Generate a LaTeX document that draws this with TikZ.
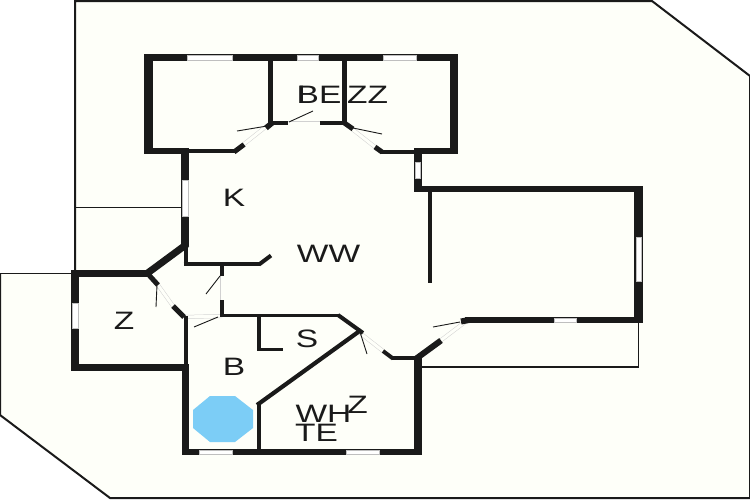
\documentclass[tikz,border=0pt]{standalone}
\usepackage{fontspec}
\setmainfont{Liberation Sans}
\newdimen\pxu \pxu=0.03cm
\definecolor{planbg}{HTML}{FEFFF9}
\definecolor{ink}{HTML}{1A1A1A}
\definecolor{poolblue}{HTML}{7CCDF6}
\newcommand{\lbl}[1]{\scalebox{1.33}[1]{\fontsize{21.5}{21.5}\selectfont #1}}
\tikzset{
  wall/.style={draw=ink,line width=#1*\pxu,line join=miter,line cap=butt},
  thin line/.style={draw=ink,line width=#1*\pxu},
  swing/.style={draw=ink,line width=0.9*\pxu},
  leaf/.style={draw=black!18,line width=0.5*\pxu,double=planbg,double distance=3*\pxu},
  pane/.style={fill=white,draw=black!25,line width=0.3*\pxu},
  label/.style={inner sep=0pt,text=ink}
}
\begin{document}
\begin{tikzpicture}[x=0.03cm,y=-0.03cm]
\useasboundingbox (0,0) rectangle (750,500);
% site
\fill[white] (0,0) rectangle (750,500);
\fill[planbg] (75,1) -- (652,1) -- (750,76) -- (750,498) -- (110,498) -- (0,415) -- (0,273) -- (75,273) -- cycle;
\draw[thin line=2] (75,273) -- (75,1) -- (652,1) -- (750,76) -- (750,498) -- (110,498) -- (0,415) -- (0,273);
\draw[thin line=1] (0,273) -- (72,273);
\draw[thin line=1.5] (75,207.5) -- (182,207.5);
\draw[thin line=1.5] (421,367) -- (638.5,367) -- (638.5,322);
% pool
\fill[poolblue] (210,396) -- (235,396) -- (253,410) -- (253,428) -- (235,442) -- (210,442) -- (193,428) -- (193,410) -- cycle;
% door leaves
\draw[leaf] (268,125) -- (244,144);
\draw[leaf] (288,123) -- (320,123);
\draw[leaf] (347,125) -- (375,147);
\draw[leaf] (158,285) -- (173,306);
\draw[leaf] (222,276) -- (222,300);
\draw[leaf] (185,317) -- (222,316);
\draw[leaf] (360,333) -- (383,351);
\draw[leaf] (440,341) -- (465,322);
% top block
\draw[wall=7] (144,57) -- (458,57);
\draw[wall=9] (148.5,54) -- (148.5,154);
\draw[wall=8] (454,54) -- (454,154);
\draw[wall=4.2] (270.5,60) -- (270.5,125);
\draw[wall=4.2] (344.5,60) -- (344.5,125);
\draw[wall=4] (268.5,123) -- (288,123);
\draw[wall=4] (320,123) -- (346,123);
\draw[wall=6] (144,151) -- (189,151);
\draw[wall=4] (189,151) -- (235,151);
\draw[wall=5] (234,152) -- (244,144.5);
\draw[wall=5.5] (266,128) -- (272,123);
\draw[wall=5] (343,122) -- (353,129);
\draw[wall=5] (375,147) -- (382,152);
\draw[wall=4] (381,151.5) -- (414,151.5);
\draw[wall=6] (414,151) -- (458,151);
% west side
\draw[wall=7.5] (185,154) -- (185,246);
\draw[wall=7] (187,244) -- (147,273.5);
\draw[wall=7] (71,273.5) -- (150,273.5);
\draw[wall=8] (75,270) -- (75,371);
\draw[wall=6.5] (71,367.5) -- (189,367.5);
\draw[wall=5] (148,274) -- (158,285);
\draw[wall=5] (173,306) -- (184,317);
\draw[wall=4] (185.5,316) -- (185.5,364);
\draw[wall=7.5] (185.5,364) -- (185.5,455);
% corridor
\draw[wall=4] (185.5,246) -- (185.5,266);
\draw[wall=3.5] (183.5,264) -- (260,264);
\draw[wall=4] (259,264.5) -- (271,255.5);
\draw[wall=4] (222,264) -- (222,276);
\draw[wall=4] (222,300) -- (222,317);
% south rooms
\draw[wall=3] (220,315.5) -- (339,315.5);
\draw[wall=4] (338,315) -- (363,333);
\draw[wall=4.2] (361,330) -- (257,405);
\draw[wall=4] (258.5,404) -- (258.5,452);
\draw[wall=3.5] (259,315) -- (259,349.5) -- (283,349.5);
\draw[wall=6] (182,452) -- (422,452);
\draw[wall=7.5] (418,356) -- (418,455);
\draw[wall=3.5] (392,358) -- (418,358);
\draw[wall=4] (383,351) -- (393,358.5);
\draw[wall=6] (415,359.5) -- (441,340.5);
% east room
\draw[wall=7.5] (418,153) -- (418,192);
\draw[wall=6] (414,189) -- (643,189);
\draw[wall=8.5] (638.5,186) -- (638.5,323);
\draw[wall=6] (465,320) -- (643,320);
\draw[wall=6] (461,321.5) -- (469,320);
\draw[wall=4.5] (430,192) -- (430,283);
% windows
\draw[pane] (187,55.5) rectangle (232,60);
\draw[pane] (297,55.5) rectangle (318,60);
\draw[pane] (383,55.5) rectangle (416,60);
\draw[pane] (182.5,180) rectangle (188,216);
\draw[pane] (415.5,162) rectangle (420.5,178);
\draw[pane] (72.5,303) rectangle (78,328);
\draw[pane] (199,450) rectangle (232,454);
\draw[pane] (346,450) rectangle (379,454);
\draw[pane] (554,318.5) rectangle (576,322.5);
\draw[pane] (636,237) rectangle (641,281);
% door swings
\draw[swing] (267,126) -- (237,131);
\draw[swing] (289,122) -- (313,111);
\draw[swing] (353,128) -- (382,134);
\draw[swing] (157,285) -- (156,307);
\draw[swing] (220,276) -- (206,294);
\draw[swing] (218,317) -- (194,327);
\draw[swing] (360,332) -- (367,354);
\draw[swing] (460,322) -- (433,327);
% labels
\node[label] (lI) at (301.5,95) {\lbl{I}};
\node[label] (lBE) at (319,95) {\lbl{BE}};
\node[label] (lZZ) at (367.5,95) {\lbl{ZZ}};
\node[label] (lK) at (234,198) {\lbl{K}};
\node[label] (lWW) at (328.5,254) {\lbl{WW}};
\node[label] (lZa) at (124,321) {\lbl{Z}};
\node[label] (lS) at (307,339) {\lbl{S}};
\node[label] (lB) at (234,367) {\lbl{B}};
\node[label] (lZb) at (357.5,405) {\lbl{Z}};
\node[label] (lWH) at (323.5,414) {\lbl{WH}};
\node[label] (lTE) at (316.5,433) {\lbl{TE}};
\end{tikzpicture}
\end{document}
